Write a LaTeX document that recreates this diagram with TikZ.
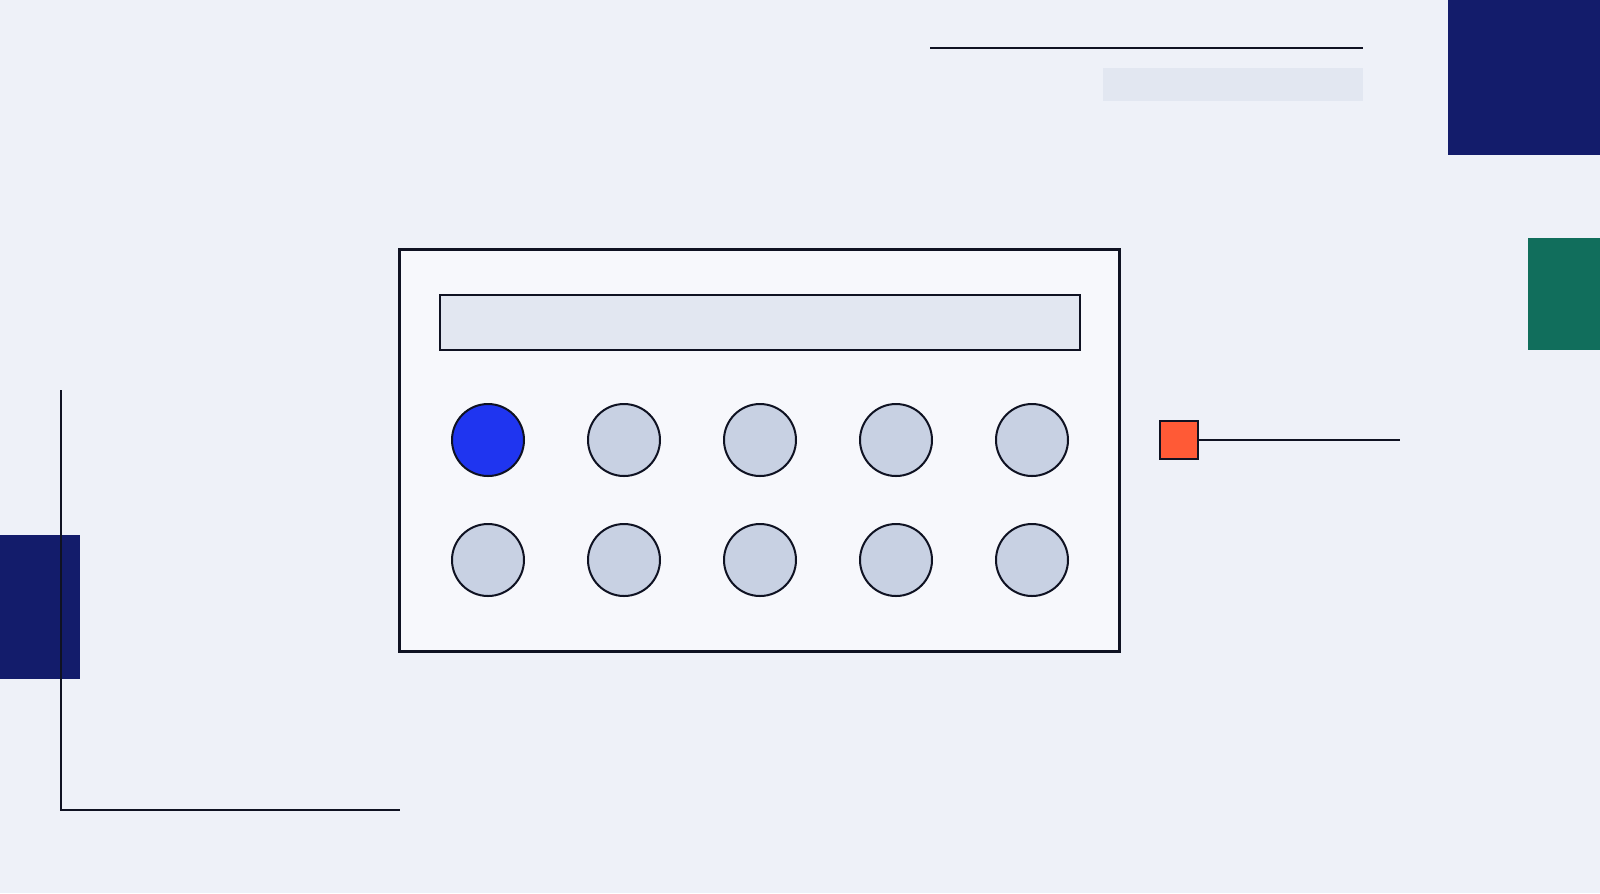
\documentclass[tikz,border=0pt]{standalone}
\usetikzlibrary{positioning}

\definecolor{pagebg}{HTML}{EEF1F8}
\definecolor{panelbg}{HTML}{F7F8FC}
\definecolor{barbg}{HTML}{E2E7F1}
\definecolor{dotgrey}{HTML}{C8D1E3}
\definecolor{dotblue}{HTML}{1F35F0}
\definecolor{navyblock}{HTML}{131C6B}
\definecolor{tealblock}{HTML}{116E5C}
\definecolor{orangemark}{HTML}{FF5A36}
\definecolor{inkline}{HTML}{0F1222}

\tikzset{
  panel/.style={draw=inkline, line width=0.85pt, fill=panelbg, minimum width=72mm, minimum height=40.2mm, inner sep=0pt},
  titlebar/.style={draw=inkline, line width=0.57pt, fill=barbg, minimum width=64mm, minimum height=5.5mm, inner sep=0pt},
  dot/.style={circle, draw=inkline, line width=0.57pt, minimum size=7.2mm, inner sep=0pt},
  marker/.style={draw=inkline, line width=0.57pt, fill=orangemark, minimum size=3.8mm, inner sep=0pt},
  rule/.style={draw=inkline, line width=0.57pt}
}

\begin{document}
\begin{tikzpicture}[x=0.1mm,y=-0.1mm]
    % Background
    \fill[pagebg] (0,0) rectangle (1600,893);
    \useasboundingbox (0,0) rectangle (1600,893);

    % Colour blocks
    \fill[navyblock] (1448,0) rectangle (1600,155);
    \fill[tealblock] (1528,238) rectangle (1600,350);
    \fill[navyblock] (0,535) rectangle (80,679);

    % Frame lines
    \coordinate (lt) at (61,390);
    \coordinate (lc) at (61,810);
    \coordinate (lr) at (400,810);
    \draw[rule] (lt) -- (lc) -- (lr);
    \coordinate (ta) at (930,47.5);
    \coordinate (tb) at (1363,47.5);
    \draw[rule] (ta) -- (tb);
    \fill[barbg] (1103,68) rectangle (1363,101);

    % Panel
    \node[panel] (panel) at (759.5,450.5) {};
    \node[titlebar] (title) at (760,322.5) {};

    % Dots
    \foreach \i/\f in {1/dotblue,2/dotgrey,3/dotgrey,4/dotgrey,5/dotgrey}
        \node[dot, fill=\f] (top\i) at ({488+136*(\i-1)},440) {};
    \foreach \i in {1,...,5}
        \node[dot, fill=dotgrey] (bot\i) at ({488+136*(\i-1)},560) {};

    % Marker
    \node[marker] (mark) at (1179,440) {};
    \coordinate (markend) at (1400,440);
    \draw[rule] (mark) -- (markend);
\end{tikzpicture}
\end{document}
